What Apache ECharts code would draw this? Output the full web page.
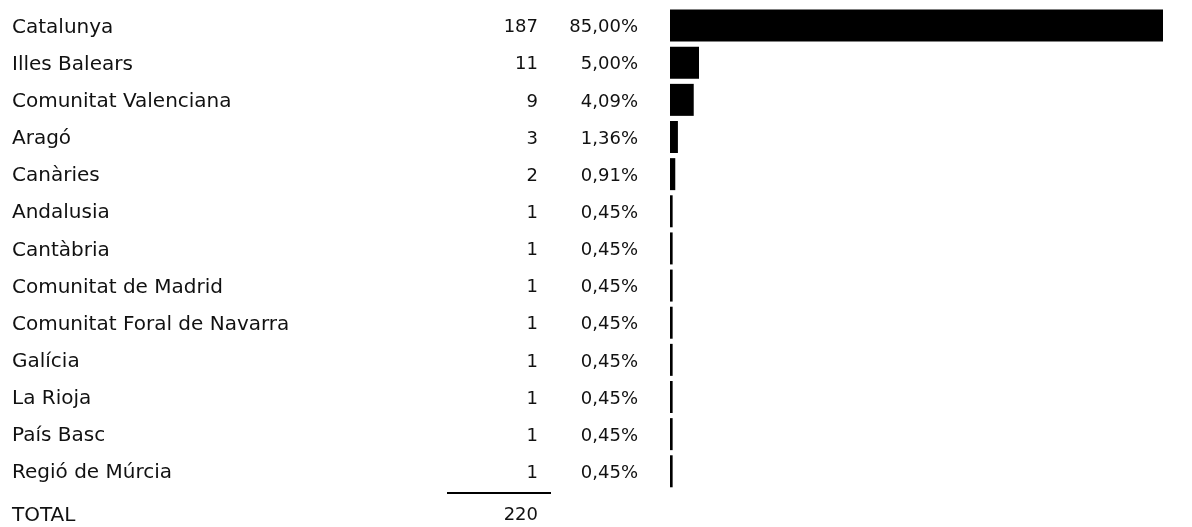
<!DOCTYPE html>
<html>
<head>
<meta charset="utf-8">
<title>Comunitats</title>
<script src="https://cdn.jsdelivr.net/npm/echarts@6/dist/echarts.min.js"></script>
<style>
  html, body { margin: 0; padding: 0; background: #fff; }
  #chart { width: 1192px; height: 527px; }
</style>
</head>
<body>
<div id="chart"></div>
<script>
  // dades
  var regions = ['Catalunya', 'Illes Balears', 'Comunitat Valenciana', 'Aragó', 'Canàries',
    'Andalusia', 'Cantàbria', 'Comunitat de Madrid', 'Comunitat Foral de Navarra',
    'Galícia', 'La Rioja', 'País Basc', 'Regió de Múrcia'];
  var counts = [187, 11, 9, 3, 2, 1, 1, 1, 1, 1, 1, 1, 1];
  var percents = [85.00, 5.00, 4.09, 1.36, 0.91, 0.45, 0.45, 0.45, 0.45, 0.45, 0.45, 0.45, 0.45];
  var totalLabel = 'TOTAL';
  var total = 220;

  var rows = regions.concat([totalLabel]);
  var barData = counts.concat([null]);

  var font = 'DejaVu Sans';
  var chart = echarts.init(document.getElementById('chart'));

  function baseAxis(extra) {
    var ax = {
      type: 'category',
      inverse: true,
      position: 'left',
      data: rows,
      axisLine: { show: false },
      axisTick: { show: false },
      splitLine: { show: false }
    };
    return Object.assign(ax, extra);
  }

  // la fila del total va una mica més avall
  var rich = {
    n: { padding: [4, 0, 0, 0] },
    t: { padding: [14, 0, 0, 0] }
  };
  function wrap(s, i) {
    return i < regions.length ? '{n|' + s + '}' : '{t|' + s + '}';
  }

  chart.setOption({
    animation: false,
    grid: { left: 670, right: 29, top: 7, height: 523 },
    xAxis: { type: 'value', min: 0, max: 187, show: false },
    yAxis: [
      // noms
      baseAxis({
        axisLabel: {
          interval: 0, align: 'left', margin: 658,
          color: '#111', fontFamily: font, fontSize: 20, rich: rich,
          formatter: function (v, i) { return wrap(v, i); }
        }
      }),
      // recompte
      baseAxis({
        axisLabel: {
          interval: 0, align: 'right', margin: 132,
          color: '#111', fontFamily: font, fontSize: 18, rich: rich,
          formatter: function (v, i) {
            return wrap(i < counts.length ? String(counts[i]) : String(total), i);
          }
        }
      }),
      // percentatge
      baseAxis({
        axisLabel: {
          interval: 0, align: 'right', margin: 32,
          color: '#111', fontFamily: font, fontSize: 18, rich: rich,
          formatter: function (v, i) {
            return i < percents.length ? wrap(percents[i].toFixed(2).replace('.', ',') + '%', i) : '';
          }
        }
      })
    ],
    series: [{
      type: 'bar',
      yAxisIndex: 0,
      data: barData,
      barWidth: 32,
      itemStyle: { color: '#000' }
    }],
    // línia sobre el total
    graphic: [{
      type: 'line',
      shape: { x1: 447, y1: 493, x2: 551, y2: 493 },
      style: { stroke: '#000', lineWidth: 2 }
    }]
  });
</script>
</body>
</html>
